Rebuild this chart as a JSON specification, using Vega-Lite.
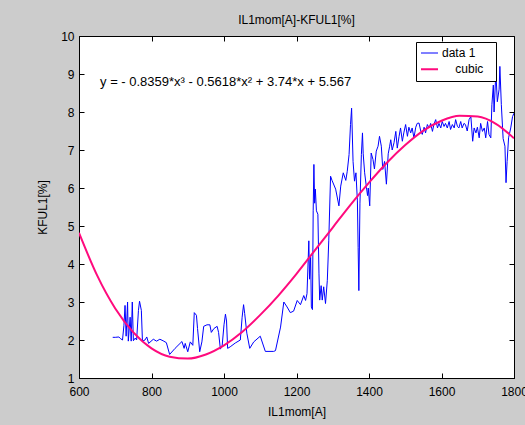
{
  "$schema": "https://vega.github.io/schema/vega-lite/v6.json",
  "width": 435,
  "height": 342,
  "autosize": {"type": "none"},
  "padding": {"left": 79, "top": 36, "right": 11, "bottom": 47},
  "background": "#cccccc",
  "title": {"text": "IL1mom[A]-KFUL1[%]", "font": "Liberation Sans", "fontSize": 12, "fontWeight": "normal", "color": "black", "anchor": "middle", "baseline": "bottom", "offset": 11, "dy": 20},
  "config": {
    "view": {"stroke": "black", "fill": "white", "strokeWidth": 1},
    "axis": {"domainColor": "black", "tickColor": "black", "labelColor": "black", "titleColor": "black", "labelFont": "Liberation Sans", "titleFont": "Liberation Sans", "labelFontSize": 12, "titleFontSize": 12, "titleFontWeight": "normal", "grid": false, "tickSize": -5, "labelOverlap": false, "labelFlush": false, "format": "d"},
    "legend": {"orient": "none", "legendX": 337, "legendY": 6, "fillColor": "white", "strokeColor": "black", "padding": 5, "symbolType": "stroke", "symbolSize": 484, "clipHeight": 12, "labelFont": "Liberation Sans", "labelFontSize": 12, "labelColor": "black", "labelOffset": 9, "rowPadding": 4.3}
  },
  "datasets": {
    "series": [
      {"s":"data 1","x":693,"y":2.07},{"s":"data 1","x":700,"y":2.07},{"s":"data 1","x":710,"y":2.08},{"s":"data 1","x":714,"y":2.04},{"s":"data 1","x":720,"y":2.0},{"s":"data 1","x":724,"y":2.39},{"s":"data 1","x":727,"y":2.91},{"s":"data 1","x":730,"y":2.1},{"s":"data 1","x":734,"y":3.0},{"s":"data 1","x":736,"y":1.97},{"s":"data 1","x":741,"y":2.6},{"s":"data 1","x":744,"y":1.97},{"s":"data 1","x":747,"y":3.0},{"s":"data 1","x":750,"y":1.98},{"s":"data 1","x":755,"y":2.05},{"s":"data 1","x":759,"y":2.0},{"s":"data 1","x":764,"y":2.78},{"s":"data 1","x":767,"y":3.02},{"s":"data 1","x":772,"y":2.78},{"s":"data 1","x":775,"y":1.97},{"s":"data 1","x":782,"y":2.0},{"s":"data 1","x":787,"y":2.08},{"s":"data 1","x":792,"y":1.91},{"s":"data 1","x":805,"y":2.02},{"s":"data 1","x":814,"y":1.97},{"s":"data 1","x":823,"y":2.02},{"s":"data 1","x":832,"y":1.98},{"s":"data 1","x":841,"y":1.93},{"s":"data 1","x":850,"y":1.62},{"s":"data 1","x":865,"y":1.78},{"s":"data 1","x":884,"y":1.96},{"s":"data 1","x":890,"y":1.78},{"s":"data 1","x":893,"y":1.91},{"s":"data 1","x":900,"y":1.69},{"s":"data 1","x":907,"y":1.95},{"s":"data 1","x":914,"y":1.86},{"s":"data 1","x":918,"y":2.72},{"s":"data 1","x":924,"y":2.65},{"s":"data 1","x":927,"y":2.3},{"s":"data 1","x":933,"y":1.69},{"s":"data 1","x":939,"y":1.95},{"s":"data 1","x":944,"y":2.36},{"s":"data 1","x":953,"y":2.4},{"s":"data 1","x":961,"y":2.4},{"s":"data 1","x":965,"y":2.2},{"s":"data 1","x":972,"y":2.3},{"s":"data 1","x":981,"y":2.36},{"s":"data 1","x":985,"y":2.2},{"s":"data 1","x":990,"y":1.76},{"s":"data 1","x":995,"y":1.86},{"s":"data 1","x":1000,"y":2.4},{"s":"data 1","x":1004,"y":2.68},{"s":"data 1","x":1007,"y":2.5},{"s":"data 1","x":1010,"y":1.78},{"s":"data 1","x":1017,"y":1.82},{"s":"data 1","x":1031,"y":1.92},{"s":"data 1","x":1045,"y":2.0},{"s":"data 1","x":1050,"y":2.6},{"s":"data 1","x":1054,"y":2.93},{"s":"data 1","x":1057,"y":2.7},{"s":"data 1","x":1063,"y":2.18},{"s":"data 1","x":1071,"y":1.78},{"s":"data 1","x":1082,"y":1.95},{"s":"data 1","x":1100,"y":2.1},{"s":"data 1","x":1114,"y":1.7},{"s":"data 1","x":1137,"y":1.7},{"s":"data 1","x":1142,"y":1.72},{"s":"data 1","x":1156,"y":2.34},{"s":"data 1","x":1165,"y":3.0},{"s":"data 1","x":1174,"y":2.87},{"s":"data 1","x":1183,"y":2.72},{"s":"data 1","x":1192,"y":2.76},{"s":"data 1","x":1202,"y":3.04},{"s":"data 1","x":1211,"y":2.93},{"s":"data 1","x":1220,"y":3.17},{"s":"data 1","x":1225,"y":3.04},{"s":"data 1","x":1229,"y":3.22},{"s":"data 1","x":1234,"y":4.61},{"s":"data 1","x":1236,"y":3.6},{"s":"data 1","x":1239,"y":4.18},{"s":"data 1","x":1241,"y":2.87},{"s":"data 1","x":1244,"y":2.8},{"s":"data 1","x":1246,"y":5.4},{"s":"data 1","x":1248,"y":6.62},{"s":"data 1","x":1250,"y":5.6},{"s":"data 1","x":1252,"y":5.97},{"s":"data 1","x":1255,"y":5.4},{"s":"data 1","x":1259,"y":5.31},{"s":"data 1","x":1262,"y":3.74},{"s":"data 1","x":1264,"y":3.05},{"s":"data 1","x":1268,"y":3.43},{"s":"data 1","x":1271,"y":3.05},{"s":"data 1","x":1275,"y":3.4},{"s":"data 1","x":1280,"y":2.96},{"s":"data 1","x":1285,"y":3.57},{"s":"data 1","x":1289,"y":4.61},{"s":"data 1","x":1294,"y":6.31},{"s":"data 1","x":1298,"y":6.2},{"s":"data 1","x":1308,"y":5.97},{"s":"data 1","x":1317,"y":5.53},{"s":"data 1","x":1322,"y":6.05},{"s":"data 1","x":1329,"y":6.4},{"s":"data 1","x":1336,"y":6.2},{"s":"data 1","x":1340,"y":6.44},{"s":"data 1","x":1345,"y":6.88},{"s":"data 1","x":1349,"y":7.67},{"s":"data 1","x":1352,"y":8.1},{"s":"data 1","x":1356,"y":6.7},{"s":"data 1","x":1360,"y":6.18},{"s":"data 1","x":1364,"y":6.4},{"s":"data 1","x":1368,"y":5.66},{"s":"data 1","x":1370,"y":4.44},{"s":"data 1","x":1372,"y":3.3},{"s":"data 1","x":1375,"y":5.6},{"s":"data 1","x":1379,"y":6.88},{"s":"data 1","x":1382,"y":7.45},{"s":"data 1","x":1384,"y":6.9},{"s":"data 1","x":1388,"y":6.4},{"s":"data 1","x":1393,"y":6.01},{"s":"data 1","x":1396,"y":5.8},{"s":"data 1","x":1398,"y":6.0},{"s":"data 1","x":1402,"y":5.53},{"s":"data 1","x":1406,"y":6.92},{"s":"data 1","x":1411,"y":6.75},{"s":"data 1","x":1415,"y":6.5},{"s":"data 1","x":1420,"y":6.97},{"s":"data 1","x":1425,"y":7.1},{"s":"data 1","x":1429,"y":7.36},{"s":"data 1","x":1434,"y":7.1},{"s":"data 1","x":1438,"y":6.49},{"s":"data 1","x":1443,"y":6.7},{"s":"data 1","x":1448,"y":6.1},{"s":"data 1","x":1453,"y":6.9},{"s":"data 1","x":1457,"y":7.1},{"s":"data 1","x":1460,"y":7.27},{"s":"data 1","x":1464,"y":7.0},{"s":"data 1","x":1469,"y":7.19},{"s":"data 1","x":1474,"y":7.49},{"s":"data 1","x":1478,"y":7.05},{"s":"data 1","x":1483,"y":7.36},{"s":"data 1","x":1487,"y":7.58},{"s":"data 1","x":1492,"y":7.23},{"s":"data 1","x":1496,"y":7.45},{"s":"data 1","x":1501,"y":7.67},{"s":"data 1","x":1506,"y":7.36},{"s":"data 1","x":1510,"y":7.6},{"s":"data 1","x":1515,"y":7.45},{"s":"data 1","x":1519,"y":7.58},{"s":"data 1","x":1524,"y":7.32},{"s":"data 1","x":1529,"y":7.6},{"s":"data 1","x":1533,"y":7.7},{"s":"data 1","x":1538,"y":7.71},{"s":"data 1","x":1543,"y":7.49},{"s":"data 1","x":1547,"y":7.41},{"s":"data 1","x":1552,"y":7.6},{"s":"data 1","x":1556,"y":7.45},{"s":"data 1","x":1561,"y":7.67},{"s":"data 1","x":1566,"y":7.58},{"s":"data 1","x":1570,"y":7.7},{"s":"data 1","x":1575,"y":7.49},{"s":"data 1","x":1579,"y":7.67},{"s":"data 1","x":1584,"y":7.8},{"s":"data 1","x":1589,"y":7.58},{"s":"data 1","x":1593,"y":7.7},{"s":"data 1","x":1598,"y":7.58},{"s":"data 1","x":1602,"y":7.75},{"s":"data 1","x":1607,"y":7.62},{"s":"data 1","x":1611,"y":7.7},{"s":"data 1","x":1616,"y":7.58},{"s":"data 1","x":1621,"y":7.75},{"s":"data 1","x":1625,"y":7.54},{"s":"data 1","x":1630,"y":7.67},{"s":"data 1","x":1635,"y":7.58},{"s":"data 1","x":1639,"y":7.8},{"s":"data 1","x":1644,"y":7.62},{"s":"data 1","x":1648,"y":7.58},{"s":"data 1","x":1653,"y":7.75},{"s":"data 1","x":1657,"y":7.58},{"s":"data 1","x":1662,"y":7.7},{"s":"data 1","x":1666,"y":7.67},{"s":"data 1","x":1671,"y":7.5},{"s":"data 1","x":1676,"y":7.8},{"s":"data 1","x":1681,"y":7.88},{"s":"data 1","x":1686,"y":7.23},{"s":"data 1","x":1690,"y":7.58},{"s":"data 1","x":1695,"y":7.45},{"s":"data 1","x":1699,"y":7.6},{"s":"data 1","x":1704,"y":7.32},{"s":"data 1","x":1708,"y":7.7},{"s":"data 1","x":1713,"y":7.49},{"s":"data 1","x":1718,"y":7.58},{"s":"data 1","x":1722,"y":7.32},{"s":"data 1","x":1727,"y":7.75},{"s":"data 1","x":1731,"y":7.41},{"s":"data 1","x":1736,"y":7.32},{"s":"data 1","x":1739,"y":8.19},{"s":"data 1","x":1743,"y":8.71},{"s":"data 1","x":1745,"y":8.0},{"s":"data 1","x":1750,"y":9.06},{"s":"data 1","x":1754,"y":8.27},{"s":"data 1","x":1759,"y":8.6},{"s":"data 1","x":1761,"y":9.2},{"s":"data 1","x":1765,"y":8.2},{"s":"data 1","x":1770,"y":7.3},{"s":"data 1","x":1775,"y":7.1},{"s":"data 1","x":1778,"y":6.14},{"s":"data 1","x":1781,"y":6.7},{"s":"data 1","x":1785,"y":7.32},{"s":"data 1","x":1791,"y":7.58},{"s":"data 1","x":1796,"y":7.88},{"s":"data 1","x":1800,"y":7.97},
      {"s":"cubic","x":600,"y":4.82},{"s":"cubic","x":650,"y":3.70},{"s":"cubic","x":700,"y":2.83},{"s":"cubic","x":750,"y":2.20},{"s":"cubic","x":800,"y":1.78},{"s":"cubic","x":850,"y":1.56},{"s":"cubic","x":900,"y":1.51},{"s":"cubic","x":950,"y":1.62},{"s":"cubic","x":1000,"y":1.86},{"s":"cubic","x":1050,"y":2.21},{"s":"cubic","x":1100,"y":2.66},{"s":"cubic","x":1150,"y":3.17},{"s":"cubic","x":1200,"y":3.74},{"s":"cubic","x":1250,"y":4.35},{"s":"cubic","x":1300,"y":4.96},{"s":"cubic","x":1350,"y":5.57},{"s":"cubic","x":1400,"y":6.14},{"s":"cubic","x":1450,"y":6.67},{"s":"cubic","x":1500,"y":7.13},{"s":"cubic","x":1550,"y":7.51},{"s":"cubic","x":1600,"y":7.77},{"s":"cubic","x":1650,"y":7.90},{"s":"cubic","x":1700,"y":7.88},{"s":"cubic","x":1750,"y":7.69},{"s":"cubic","x":1800,"y":7.31}
    ],
    "note": [{"label": "y = - 0.8359*x³ - 0.5618*x² + 3.74*x + 5.567"}]
  },
  "layer": [
    {
      "data": {"name": "series"},
      "transform": [{"filter": "datum.s === 'data 1'"}],
      "mark": {"type": "line", "strokeWidth": 1, "clip": true},
      "encoding": {
        "x": {"field": "x", "type": "quantitative", "scale": {"domain": [600, 1800], "nice": false, "zero": false}, "axis": {"orient": "bottom", "values": [600, 800, 1000, 1200, 1400, 1600, 1800], "labelPadding": 13, "title": "IL1mom[A]", "titleX": 217.5, "titleY": 33, "titleBaseline": "middle"}},
        "y": {"field": "y", "type": "quantitative", "scale": {"domain": [1, 10], "nice": false, "zero": false}, "axis": {"orient": "left", "values": [1, 2, 3, 4, 5, 6, 7, 8, 9, 10], "labelPadding": 10, "title": "KFUL1[%]", "titleX": -37, "titleY": 171, "titleAngle": -90, "titleAlign": "center", "titleBaseline": "middle"}},
        "color": {"field": "s", "type": "nominal", "scale": {"domain": ["data 1", "cubic"], "range": ["#0000ff", "#ff0a7d"]}, "legend": {"title": null, "labelExpr": "datum.label == 'cubic' ? '\u200b\u00a0\u00a0\u00a0\u00a0cubic\u00a0\u00a0\u200b' : datum.label", "encode": {"symbols": {"update": {"strokeWidth": {"signal": "datum.value === 'cubic' ? 2 : 1"}}}}}}
      }
    },
    {
      "data": {"name": "series"},
      "transform": [{"filter": "datum.s === 'cubic'"}],
      "mark": {"type": "line", "strokeWidth": 2, "interpolate": "monotone", "clip": true},
      "encoding": {
        "x": {"field": "x", "type": "quantitative", "axis": null},
        "y": {"field": "y", "type": "quantitative", "axis": null},
        "color": {"field": "s", "type": "nominal", "legend": {"title": null, "labelExpr": "datum.label == 'cubic' ? '\u200b\u00a0\u00a0\u00a0\u00a0cubic\u00a0\u00a0\u200b' : datum.label", "encode": {"symbols": {"update": {"strokeWidth": {"signal": "datum.value === 'cubic' ? 2 : 1"}}}}}}
      }
    },
    {
      "data": {"name": "note"},
      "mark": {"type": "text", "align": "left", "baseline": "middle", "font": "Liberation Sans", "fontSize": 13, "color": "black"},
      "encoding": {
        "x": {"datum": 658, "type": "quantitative", "axis": {"orient": "top", "values": [600, 800, 1000, 1200, 1400, 1600, 1800], "labels": false, "title": null, "domain": false}},
        "y": {"datum": 8.8, "type": "quantitative", "axis": {"orient": "right", "values": [1, 2, 3, 4, 5, 6, 7, 8, 9, 10], "labels": false, "title": null, "domain": false}},
        "text": {"field": "label"}
      }
    }
  ],
  "resolve": {"axis": {"x": "independent", "y": "independent"}}
}
